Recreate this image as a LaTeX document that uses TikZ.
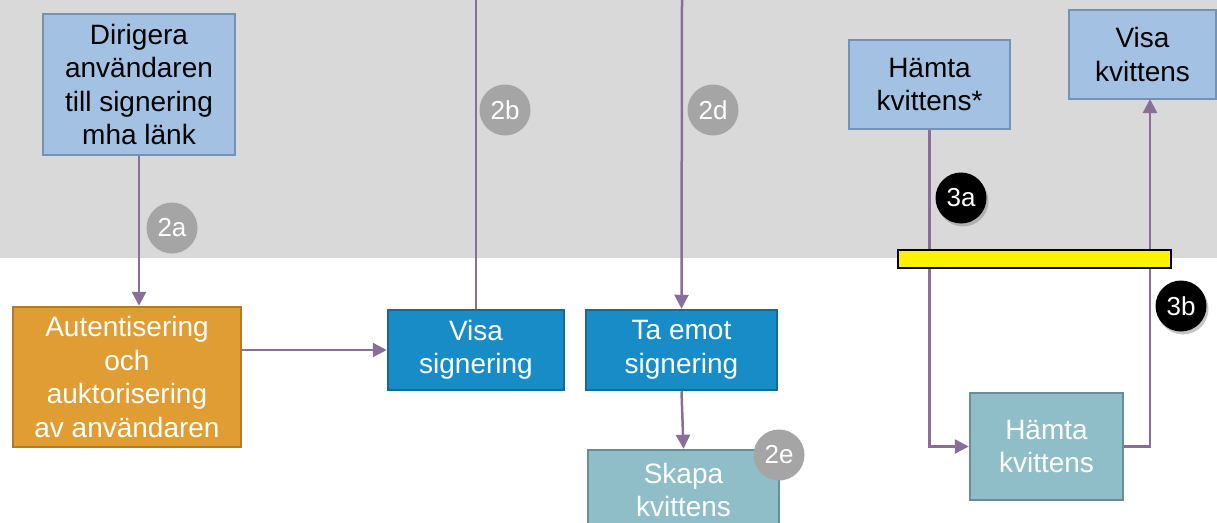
\documentclass[tikz,border=0pt]{standalone}
\usepackage{fontspec}
\setmainfont{Liberation Sans}
\usetikzlibrary{arrows.meta,shadows,calc}
\definecolor{bggray}{HTML}{D9D9D9}
\definecolor{lbfill}{HTML}{A3C2E3}
\definecolor{lbdraw}{HTML}{7591B4}
\definecolor{orfill}{HTML}{E09D34}
\definecolor{ordraw}{HTML}{B5792A}
\definecolor{bfill}{HTML}{178CC6}
\definecolor{bdraw}{HTML}{176A96}
\definecolor{tfill}{HTML}{8FBEC9}
\definecolor{tdraw}{HTML}{668F97}
\definecolor{conn}{HTML}{8A6E9A}
\definecolor{badgegray}{HTML}{A5A5A5}
\tikzset{
  box/.style={rectangle, line width=2.5pt, align=center, inner sep=0pt,
    font=\fontsize{28}{33.5}\selectfont},
  lightbox/.style={box, fill=lbfill, draw=lbdraw, text=black},
  orangebox/.style={box, fill=orfill, draw=ordraw, text=white},
  bluebox/.style={box, fill=bfill, draw=bdraw, text=white},
  tealbox/.style={box, fill=tfill, draw=tdraw, text=white},
  link/.style={draw=conn, line width=2.5pt},
  arrowlink/.style={link, -{Triangle[length=14pt,width=14pt]}},
  badge/.style={circle, minimum size=51pt, inner sep=0pt, text=white,
    font=\fontsize{26}{30}\selectfont},
  graybadge/.style={badge, fill=badgegray},
  blackbadge/.style={badge, fill=black,
    drop shadow={opacity=0.45, shadow xshift=2pt, shadow yshift=-3pt}},
}
\begin{document}
\begin{tikzpicture}[x=1pt,y=-1pt]
\useasboundingbox (0,0) rectangle (1217,522);
\fill[bggray] (0,0) rectangle (1217,258);

% nodes
\node[lightbox, minimum width=192pt, minimum height=141pt] (dir) at (139,84.5)
  {Dirigera\\användaren\\till signering\\mha länk};
\node[orangebox, minimum width=228pt, minimum height=140pt] (auth) at (127,377)
  {Autentisering\\och\\auktorisering\\av användaren};
\node[bluebox, minimum width=176pt, minimum height=80pt] (visa) at (476,350)
  {Visa\\signering};
\node[bluebox, minimum width=191pt, minimum height=80pt] (taemot) at (681.5,350)
  {Ta emot\\signering};
\node[tealbox, minimum width=191pt, minimum height=80pt] (skapa) at (683.5,490)
  {Skapa\\kvittens};
\node[lightbox, minimum width=161pt, minimum height=89pt] (hk) at (929.5,84.5)
  {Hämta\\kvittens*};
\node[lightbox, minimum width=147pt, minimum height=89pt] (vk) at (1142.5,54.5)
  {Visa\\kvittens};
\node[tealbox, minimum width=153pt, minimum height=107pt] (hkl) at (1046.5,446.5)
  {Hämta\\kvittens};

\coordinate (top2b) at (476,0);
\coordinate (top2d) at (682,0);
\coordinate (vkin) at (1150,99);

% connectors
\draw[arrowlink] (dir.south) -- (dir.south |- auth.north);
\draw[arrowlink] (auth.east |- visa.west) -- (visa.west);
\draw[link] (top2b) -- (visa.north);
\draw[arrowlink] (top2d) -- (taemot.north);
\draw[arrowlink] (taemot.south) -- (skapa.north);
\draw[arrowlink] (hk.south) |- (hkl.west);
\draw[arrowlink] (hkl.east) -| (vkin);

% yellow bar
\node[rectangle, fill=yellow, draw=black, line width=2pt, minimum width=273pt,
  minimum height=18pt, inner sep=0pt] (bar) at (1034.5,259) {};

% badges
\node[graybadge] (b2a) at (172,228) {2a};
\node[graybadge] (b2b) at (505,110) {2b};
\node[graybadge] (b2d) at (713,110) {2d};
\node[graybadge] (b2e) at (779,455) {2e};
\node[blackbadge] (b3a) at (961,198) {3a};
\node[blackbadge] (b3b) at (1181,306) {3b};
\end{tikzpicture}
\end{document}
